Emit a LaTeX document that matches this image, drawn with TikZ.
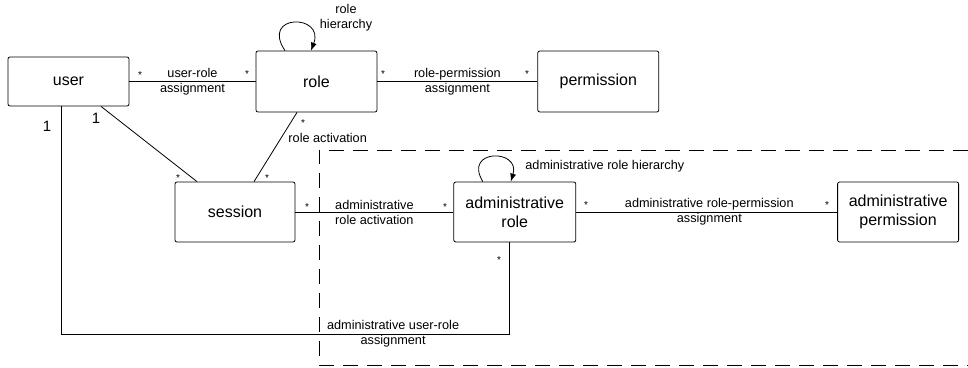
\documentclass[tikz,border=0pt]{standalone}
\usepackage{fontspec}
\setmainfont{Liberation Sans}
\usetikzlibrary{positioning,arrows.meta}

\begin{document}
\begin{tikzpicture}
  [x=1pt,y=-1pt,line width=0.8pt,
   basicbox/.style={draw,rectangle,rounded corners=2pt,inner sep=0pt,minimum width=121pt,minimum height=60pt,font=\fontsize{16}{19}\selectfont},
   multilinebox/.style={basicbox,align=center},
   assoclabel/.style={inner sep=0pt,align=center,font=\fontsize{12.7}{15}\selectfont},
   multstar/.style={inner sep=0pt,anchor=north,font=\fontsize{10}{10}\selectfont},
   multone/.style={inner sep=0pt,font=\fontsize{15}{15}\selectfont},
   hierarrow/.style={-{Latex[length=8pt,width=6pt]}}]
  \useasboundingbox (0,0) rectangle (968,367);
  % boxes
  \node (user) at (68.5,81.5) [basicbox,minimum height=49pt] {user};
  \node (role) at (316.5,81.5) [basicbox,minimum height=61pt] {role};
  \node (permission) [basicbox,minimum height=61pt,right=160pt of role] {permission};
  \node (session) at (235,212) [basicbox,minimum width=120pt] {session};
  \node (adminrole) [multilinebox,minimum width=122pt,right=158pt of session] {administrative\\role};
  \node (adminperm) [multilinebox,right=261pt of adminrole] {administrative\\permission};
  % administrative area
  \draw [dash pattern=on 15pt off 9pt] (968,150) -- (319,150) -- (319,365) -- (968,365);
  % associations
  \draw (user) -- (role) node [assoclabel,midway] {user-role\\assignment};
  \draw (role) -- (permission) node [assoclabel,midway] {role-permission\\assignment};
  \draw ([xshift=32.5pt]user.south) -- ([xshift=-38pt]session.north);
  \draw ([xshift=-19.5pt]role.south) -- ([xshift=19pt]session.north) node [assoclabel,pos=0.37,right=7pt] {role activation};
  \draw (session) -- (adminrole) node [assoclabel,midway] {administrative\\role activation};
  \draw (adminrole) -- (adminperm) node [assoclabel,pos=0.51] {administrative role-permission\\assignment};
  \coordinate (ucorner) at (61,334);
  \draw (user.south -| ucorner) -- (ucorner) -| ([xshift=-5pt]adminrole.south) node [assoclabel,pos=0.37] {administrative user-role\\assignment};
  % hierarchies
  \draw [hierarrow] ([xshift=-31.5pt]role.north) .. controls +(-25,-37) and +(14,-37) .. ([xshift=-5.5pt]role.north);
  \node (rolehier) at (346,17.5) [assoclabel] {role\\hierarchy};
  \draw [hierarrow] ([xshift=-32pt]adminrole.north) .. controls +(-20,-33) and +(10,-33) .. ([xshift=-4pt]adminrole.north);
  \node (adminrolehier) at (525,166) [assoclabel,anchor=west] {administrative role hierarchy};
  % multiplicities
  \node (urstaruser) at (140,71) [multstar] {*};
  \node (urstarrole) at (247,70) [multstar] {*};
  \node (rpstarrole) at (383,70) [multstar] {*};
  \node (rpstarperm) at (527,70) [multstar] {*};
  \node (usstaruser) at (96,118) [multone] {1};
  \node (usstarsession) at (178,174) [multstar] {*};
  \node (rsstarrole) at (303,119) [multstar] {*};
  \node (rsstarsession) at (267,174) [multstar] {*};
  \node (aurone) at (47,126) [multone] {1};
  \node (aurstar) at (499,256) [multstar] {*};
  \node (sastarsession) at (307,203) [multstar] {*};
  \node (sastaradmin) at (445,203) [multstar] {*};
  \node (apstaradmin) at (586,201) [multstar] {*};
  \node (apstarperm) at (827,201) [multstar] {*};
\end{tikzpicture}
\end{document}
